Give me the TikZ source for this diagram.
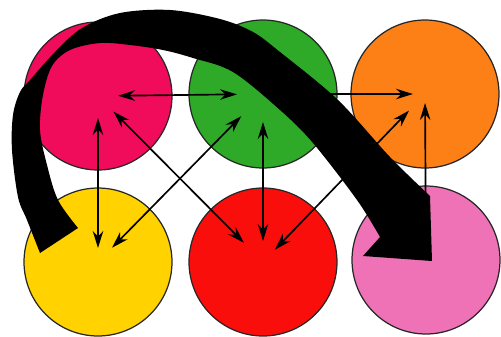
\documentclass[tikz,border=0pt]{standalone}
\usepackage{xcolor}
\usepackage{tikz}
\usetikzlibrary{arrows.meta}

\definecolor{ballmag}{RGB}{240,12,90}
\definecolor{ballgrn}{RGB}{46,170,40}
\definecolor{ballorg}{RGB}{252,128,22}
\definecolor{ballyel}{RGB}{255,210,0}
\definecolor{ballred}{RGB}{250,14,12}
\definecolor{ballpnk}{RGB}{240,114,182}

\begin{document}
\begin{tikzpicture}[x=0.02cm, y=-0.02cm,
    ball/.style={circle, draw=black!85, line width=0.7pt, minimum size=2.96cm, inner sep=0pt},
    link/.style={draw, line width=0.95pt, <->, >={Stealth[length=3.4mm, width=2.1mm]}},
    bigarrow/.style={fill=black, line join=round}
]
    \useasboundingbox (0,0) rectangle (501,336);

    % Balls
    \node[ball, fill=ballmag] (mag) at (98,96) {};
    \node[ball, fill=ballgrn] (grn) at (263,94) {};
    \node[ball, fill=ballorg] (org) at (425,94) {};
    \node[ball, fill=ballyel] (yel) at (98,262) {};
    \node[ball, fill=ballred] (red) at (263,262) {};
    \node[ball, fill=ballpnk] (pnk) at (426,260) {};

    % Links
    \draw[link, shorten <=0.4cm, shorten >=0.52cm] (mag.center) -- (grn.center);
    \draw[link, shorten <=0.48cm, shorten >=0.24cm] (grn.center) -- (org.center);
    \draw[link, shorten <=0.44cm, shorten >=0.28cm] (mag.center) -- (yel.center);
    \draw[link, shorten <=0.56cm, shorten >=0.42cm] (grn.center) -- (red.center);
    \draw[link, shorten <=0.18cm, shorten >=0.4cm] (org.center) -- (pnk.center);
    \draw[link, shorten <=0.44cm, shorten >=0.54cm] (mag.center) -- (red.center);
    \draw[link, shorten <=0.62cm, shorten >=0.4cm] (grn.center) -- (yel.center);
    \draw[link, shorten <=0.34cm, shorten >=0.46cm] (red.center) -- (org.center);

    % Big arrow, yellow round to pink
    \fill[bigarrow] plot[smooth, tension=0.55] coordinates {(40,253) (27,220) (18,197)
            (12,150) (13,115) (20,92) (30,80) (55,52) (82,28) (120,13) (170,10)
            (220,19) (253,32) (280,52) (338,100) (390,157) (430,196)}
        -- (432,261) -- (363,256) -- (380,237)
        -- plot[smooth, tension=0.55] coordinates {(380,237) (357,200) (313,143)
            (280,110) (233,72) (193,58) (163,50) (130,45) (100,43) (70,50) (52,66)
            (43,95) (40,130) (47,165) (58,200) (78,228)}
        -- cycle;
\end{tikzpicture}
\end{document}
